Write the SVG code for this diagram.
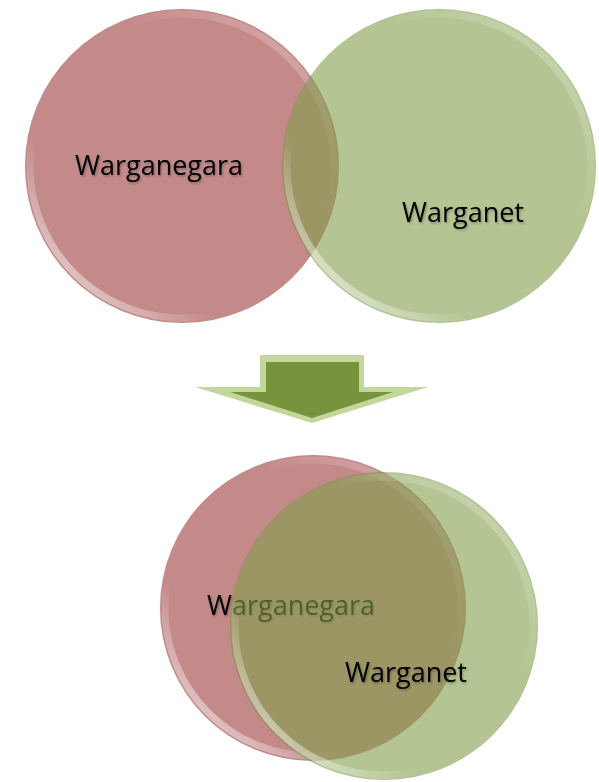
<svg xmlns="http://www.w3.org/2000/svg" width="599" height="782" viewBox="0 0 599 782">
  <style>
    .red { fill: #c48a8a; }
    .green { fill: #829e4b; fill-opacity: 0.6; }
    .rim { fill: none; stroke: url(#gloss); stroke-width: 7; }
    .edge { fill: none; stroke: #000; stroke-opacity: 0.04; stroke-width: 1; }
    .label { font-family: "Open Sans", "Liberation Sans", sans-serif; font-size: 27px; fill: #000; filter: url(#soft); }
  </style>
  <defs>
    <linearGradient id="gloss" x1="0" y1="1" x2="1" y2="0">
      <stop offset="0" stop-color="#fff" stop-opacity="0.85"/>
      <stop offset="0.3" stop-color="#fff" stop-opacity="0"/>
      <stop offset="0.65" stop-color="#fff" stop-opacity="0"/>
      <stop offset="1" stop-color="#fff" stop-opacity="0.35"/>
    </linearGradient>
    <filter id="soft" x="-10%" y="-30%" width="120%" height="160%">
      <feDropShadow dx="1" dy="1.5" stdDeviation="1.2" flood-color="#000" flood-opacity="0.3"/>
    </filter>
  </defs>

  <!-- upper pair: two sets barely overlapping -->
  <g id="top-warganegara">
    <circle class="red" cx="182" cy="166" r="157"/>
    <circle class="edge" cx="182" cy="166" r="157"/>
    <circle class="rim" cx="182" cy="166" r="152"/>
  </g>
  <g id="top-warganet">
    <circle class="green" cx="439" cy="166" r="157"/>
    <circle class="edge" cx="439" cy="166" r="157"/>
    <circle class="rim" cx="439" cy="166" r="152"/>
  </g>
  <text class="label" x="75" y="175">Warganegara</text>
  <text class="label" x="402" y="222">Warganet</text>

  <!-- block arrow between the two states -->
  <g id="arrow">
    <polygon points="260,355 364,355 364,387 428,387 312,423 195,387 260,387" fill="#c3d69b"/>
    <polygon points="266,362 359,362 359,392 393,392 312,418 230,392 266,392" fill="#77933c"/>
  </g>

  <!-- lower pair: sets largely overlapping -->
  <g id="bottom-warganegara">
    <circle class="red" cx="313" cy="608" r="153"/>
    <circle class="edge" cx="313" cy="608" r="153"/>
    <circle class="rim" cx="313" cy="608" r="148"/>
    <text class="label" x="207" y="615">Warganegara</text>
  </g>
  <g id="bottom-warganet">
    <circle class="green" cx="384" cy="626" r="154"/>
    <circle class="edge" cx="384" cy="626" r="154"/>
    <circle class="rim" cx="384" cy="626" r="149"/>
    <text class="label" x="345" y="682">Warganet</text>
  </g>
</svg>
